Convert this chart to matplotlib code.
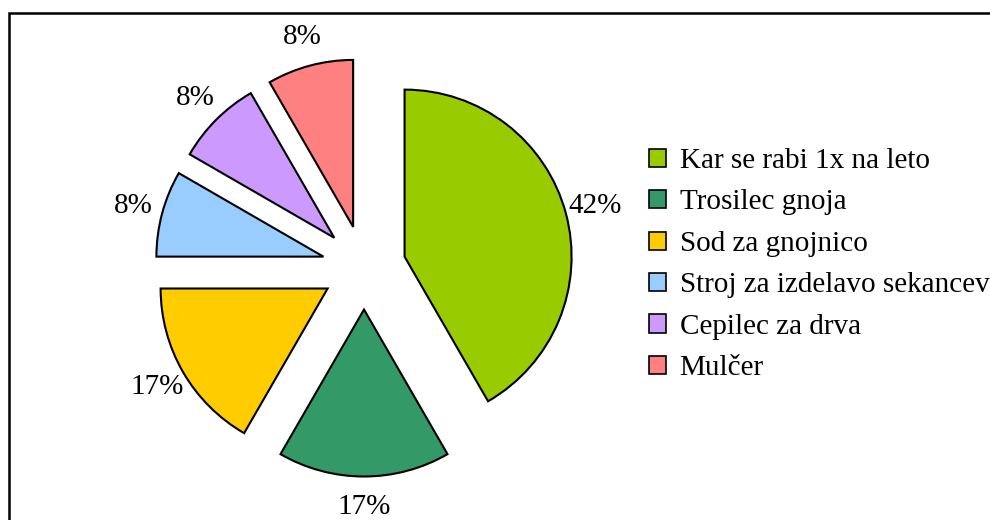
import matplotlib
matplotlib.use("Agg")
import matplotlib.pyplot as plt
from matplotlib.patches import Rectangle, Patch

categories = ["Kar se rabi 1x na leto", "Trosilec gnoja", "Sod za gnojnico",
              "Stroj za izdelavo sekancev", "Cepilec za drva", "Mulčer"]
counts = [5, 2, 2, 1, 1, 1]
colors = ["#99CC00", "#339966", "#FFCC00", "#99CCFF", "#CC99FF", "#FF8080"]

W, H = 990, 520
fig = plt.figure(figsize=(W / 100, H / 100), dpi=100)
ax = fig.add_axes([0, 0, 1, 1])

plt.rcParams["font.family"] = ["Liberation Serif", "DejaVu Serif"]
fs = 21
fam = ["Liberation Serif", "DejaVu Serif"]

cx, cy = 364, H - 267.5
R = 167
d = 42
wedges, texts, autotexts = ax.pie(
    counts, colors=colors, startangle=90, counterclock=False,
    center=(cx, cy), radius=R, explode=[d] * len(counts),
    autopct=lambda p: f"{p:.0f}%", pctdistance=1.18,
    wedgeprops=dict(edgecolor="black", linewidth=1.5),
    textprops=dict(fontsize=fs, family=fam),
    frame=True)
ax.set_xlim(0, W)
ax.set_ylim(0, H)
ax.set_aspect("equal")
ax.axis("off")

# outer border
ax.add_patch(Rectangle((8.5, -10), W + 20, H - 12.5 + 10, fill=False,
                       edgecolor="black", linewidth=1.8, clip_on=False))

handles = [Patch(facecolor=c, edgecolor="black", linewidth=1.2) for c in colors]
leg = ax.legend(handles, categories, loc="upper left",
                bbox_to_anchor=(649 / W, 1 - 148 / H), frameon=False,
                prop=dict(family=fam, size=fs),
                handlelength=0.58, handleheight=0.58, handletextpad=0.47,
                labelspacing=0.53, borderaxespad=0, borderpad=0)

fig.savefig("out.png", dpi=100)
